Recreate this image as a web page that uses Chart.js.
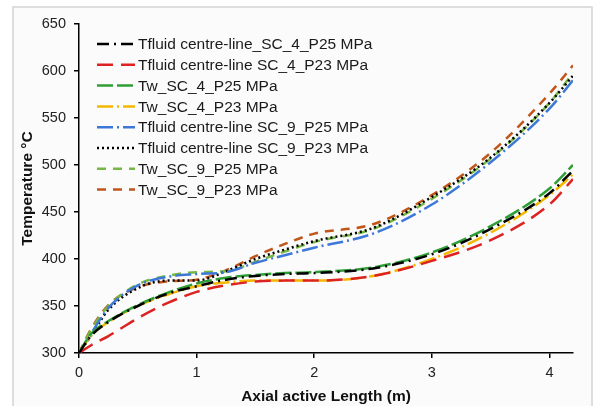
<!DOCTYPE html>
<html>
<head>
<meta charset="utf-8">
<script src="https://cdn.jsdelivr.net/npm/chart.js@4.4.1/dist/chart.umd.min.js"></script>
<style>
  html, body { margin: 0; padding: 0; background: #fff; }
  #wrap { width: 595px; height: 406px; }
</style>
</head>
<body>
<div id="wrap"><canvas id="tempChart" width="595" height="406"></canvas></div>
<script>
// Data
const axialLength = [0, 0.1, 0.25, 0.5, 0.75, 1, 1.25, 1.5, 1.75, 2, 2.5, 3, 3.5, 4, 4.2];
const tfluidSC4P25 = [300, 318, 333, 350, 363, 371, 378, 382, 384, 385, 390, 405, 432, 470, 494];
const tfluidSC4P23 = [300, 308, 318, 337, 353, 365, 372, 376, 377, 377, 382, 398, 420, 458, 485];
const twSC4P25 = [300, 320, 334, 351, 364, 374, 380, 383, 385, 386, 391, 407, 435, 475, 500];
const twSC4P23 = [300, 318, 333, 350, 362, 371, 375, 377, 377, 377, 382, 400, 428, 468, 490];
const tfluidSC9P25 = [300, 320, 348, 372, 381, 384, 386, 396, 404, 412, 427, 458, 503, 560, 590];
const tfluidSC9P23 = [300, 318, 346, 369, 377, 377, 387, 400, 410, 419, 433, 466, 508, 566, 595];
const twSC9P25 = [300, 324, 350, 373, 382, 386, 387, 397, 408, 418, 432, 464, 507, 566, 598];
const twSC9P23 = [300, 325, 351, 370, 376, 378, 388, 403, 416, 427, 437, 468, 513, 576, 606];
const xTicks = [0, 1, 2, 3, 4];
const yTicks = [300, 350, 400, 450, 500, 550, 600, 650];

const FONT = '"Liberation Sans", Arial, sans-serif';

function pts(values) {
    return axialLength.map((x, i) => ({ x: x, y: values[i] }));
}

function serie(label, values, color, dash) {
    return {
        label: label,
        data: pts(values),
        borderColor: color,
        backgroundColor: color,
        borderWidth: 2.5,
        borderDash: dash,
        pointRadius: 0,
        fill: false,
        cubicInterpolationMode: 'monotone'
    };
}

// Legend drawn inside the plot, top left
const insideLegend = {
    id: 'insideLegend',
    afterDraw(chart) {
        const c = chart.ctx;
        const x0 = 97, x1 = 135, tx = 138, y0 = 44, dy = 20.8;
        chart.data.datasets.forEach((ds, i) => {
            const y = y0 + i * dy;
            c.save();
            c.strokeStyle = ds.borderColor;
            c.lineWidth = 2.5;
            c.setLineDash(ds.borderDash || []);
            c.beginPath();
            c.moveTo(x0, y);
            c.lineTo(x1, y);
            c.stroke();
            c.restore();
            c.save();
            c.fillStyle = '#1a1a1a';
            c.font = '15.5px ' + FONT;
            c.textBaseline = 'middle';
            c.fillText(ds.label, tx, y + 1);
            c.restore();
        });
    }
};

// Light frame around the figure
const frame = {
    id: 'frame',
    beforeDraw(chart) {
        const c = chart.ctx;
        c.save();
        c.fillStyle = '#fbfbfb';
        c.fillRect(13, 7, 579, 399);
        c.strokeStyle = '#d4d4d4';
        c.lineWidth = 1.5;
        c.strokeRect(13, 7, 579, 405);
        c.restore();
    }
};

const ctx = document.getElementById('tempChart').getContext('2d');
const chart = new Chart(ctx, {
    type: 'line',
    data: {
        datasets: [
            serie('Tfluid centre-line_SC_4_P25 MPa', tfluidSC4P25, '#000000', [12, 5, 2, 5]),
            serie('Tfluid centre-line SC_4_P23 MPa', tfluidSC4P23, '#dd2222', [16, 8]),
            serie('Tw_SC_4_P25 MPa', twSC4P25, '#2f9e36', [16, 4]),
            serie('Tw_SC_4_P23 MPa', twSC4P23, '#f5b800', [16, 4, 2, 4]),
            serie('Tfluid centre-line SC_9_P25 MPa', tfluidSC9P25, '#3d78d8', [16, 4, 2, 4]),
            serie('Tfluid centre-line SC_9_P23 MPa', tfluidSC9P23, '#000000', [2, 3]),
            serie('Tw_SC_9_P25 MPa', twSC9P25, '#76b843', [9, 7]),
            serie('Tw_SC_9_P23 MPa', twSC9P23, '#c0561a', [9, 7])
        ]
    },
    options: {
        responsive: false,
        animation: false,
        layout: { padding: { left: 0, top: 24, right: 22, bottom: 0 } },
        plugins: {
            legend: { display: false },
            tooltip: { enabled: false }
        },
        scales: {
            x: {
                type: 'linear',
                min: 0,
                max: 4.2,
                afterBuildTicks: s => { s.ticks = xTicks.map(v => ({ value: v })); },
                afterFit: s => { s.height = 53; },
                grid: { display: true, drawOnChartArea: false, tickLength: 5, color: '#000', lineWidth: 1.5 },
                border: { color: '#000', width: 1.5 },
                ticks: { color: '#222', font: { size: 14.5, family: FONT }, padding: 6, maxRotation: 0 },
                title: {
                    display: true,
                    text: 'Axial active Length (m)',
                    color: '#111',
                    font: { size: 15.5, weight: 'bold', family: FONT },
                    padding: { top: 1, bottom: 0 }
                }
            },
            y: {
                min: 300,
                max: 650,
                afterBuildTicks: s => { s.ticks = yTicks.map(v => ({ value: v })); },
                afterFit: s => { s.width = 79; },
                grid: { display: true, drawOnChartArea: false, tickLength: 5, color: '#000', lineWidth: 1.5 },
                border: { color: '#000', width: 1.5 },
                ticks: { color: '#222', font: { size: 14.5, family: FONT }, padding: 8 },
                title: {
                    display: true,
                    text: 'Temperature °C',
                    color: '#111',
                    font: { size: 15.5, weight: 'bold', family: FONT },
                    padding: { top: 18, bottom: 0 }
                }
            }
        }
    },
    plugins: [frame, insideLegend]
});
</script>
</body>
</html>
